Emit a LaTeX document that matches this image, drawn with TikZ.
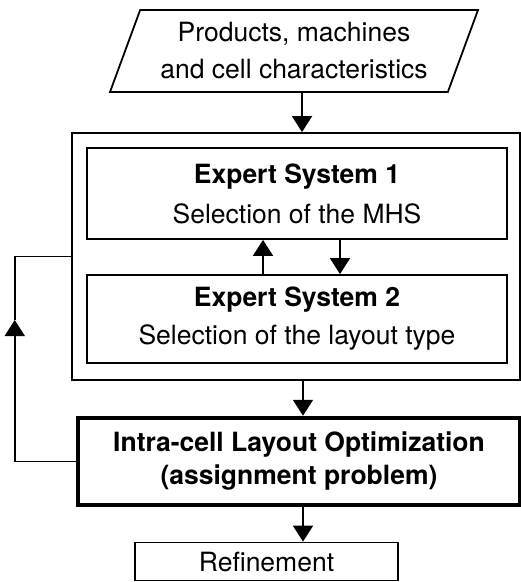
\documentclass[tikz,border=0pt]{standalone}
\usepackage{fontspec}
\setmainfont{TeX Gyre Heros}
\usetikzlibrary{arrows.meta,shapes.geometric}

\begin{document}
\begin{tikzpicture}[x=1pt,y=-1pt,line width=1.8pt,
  every node/.style={font=\fontsize{26.5}{37}\selectfont,align=center,inner sep=0pt},
  box/.style={draw,rectangle},
  arr/.style={-{Triangle[length=16pt,width=20pt]}}]
  \useasboundingbox (0,0) rectangle (521,582);
  \node[draw,trapezium,trapezium left angle=62,trapezium right angle=118,
    trapezium stretches body,minimum width=368pt,minimum height=82pt] (input) at (294,51)
    {Products, machines\\and cell characteristics};
  \node[box,minimum width=448pt,minimum height=247pt] (esframe) at (296,256.5) {};
  \node[box,minimum width=420pt,minimum height=91pt] (es1) at (297,193.5)
    {\textbf{Expert System 1}\\[3pt]Selection of the MHS};
  \node[box,minimum width=420pt,minimum height=88pt] (es2) at (297,319)
    {\textbf{Expert System 2}\\[1pt]Selection of the layout type};
  \node[box,line width=4.5pt,minimum width=442pt,minimum height=87pt] (opt) at (299,461.5)
    {\textbf{Intra-cell Layout Optimization}\\[-4pt]\textbf{(assignment problem)}};
  \node[box,minimum width=263pt,minimum height=38pt] (refine) at (266.5,561.5) {Refinement};
  \draw[arr] ([xshift=8pt]input.south) -- ([xshift=8pt]input.south |- esframe.north);
  \draw[arr] ([xshift=-34pt]es2.north) -- ([xshift=-34pt]es1.south);
  \draw[arr] ([xshift=43pt]es1.south) -- ([xshift=43pt]es2.north);
  \draw[arr] ([xshift=7pt]esframe.south) -- ([xshift=7pt]esframe.south |- opt.north);
  \draw[arr] ([xshift=4pt]opt.south) -- ([xshift=4pt]opt.south |- refine.north);
  \coordinate (fb) at ([xshift=-61pt]opt.west);
  \draw[arr] (opt.west) -- (fb) -- (fb |- 0,320);
  \draw (fb |- 0,320) |- (esframe.west);
\end{tikzpicture}
\end{document}
